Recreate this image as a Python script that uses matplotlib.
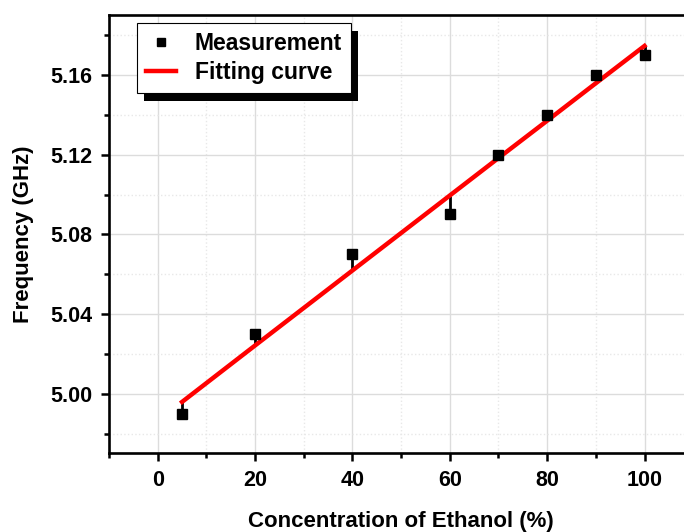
import numpy as np
import matplotlib
matplotlib.use("Agg")
import matplotlib.pyplot as plt
from matplotlib.patches import Rectangle
from matplotlib.ticker import MultipleLocator, FormatStrFormatter

# === DATOS ===
concentracion = [5, 20, 40, 60, 70, 80, 90, 100]
frecuencia = [4.99, 5.03, 5.07, 5.09, 5.12, 5.14, 5.16, 5.17]
ajuste = [4.9960, 5.0243, 5.0619, 5.0995, 5.1183, 5.1370, 5.1558, 5.1745]

plt.rcParams['font.family'] = ['Liberation Sans', 'DejaVu Sans']
plt.rcParams['font.weight'] = 'bold'

fig = plt.figure(figsize=(6.84, 5.32), dpi=100)
ax = fig.add_axes([109 / 684, 1 - 453 / 532, 584.2 / 684, 438 / 532])

# residuos (linea vertical del punto a la recta)
for x, y, f in zip(concentracion, frecuencia, ajuste):
    ax.plot([x, x], [y, f], color='black', lw=2.0, zorder=3, solid_capstyle='butt')

ax.plot(concentracion, ajuste, color='#ff0000', lw=3.2, zorder=4, label='Fitting curve')
ax.plot(concentracion, frecuencia, 's', color='black', ms=6.8, zorder=5, label='Measurement')

ax.set_xlim(-10, 110)
ax.set_ylim(4.9704, 5.19)
ax.xaxis.set_major_locator(MultipleLocator(20))
ax.xaxis.set_minor_locator(MultipleLocator(10))
ax.yaxis.set_major_locator(MultipleLocator(0.04))
ax.yaxis.set_minor_locator(MultipleLocator(0.02))
ax.yaxis.set_major_formatter(FormatStrFormatter('%.2f'))

ax.grid(True, which='major', color='#dcdcdc', lw=1.0, ls='-')
ax.grid(True, which='minor', color='#e8e8e8', lw=1.0, ls=':')
ax.set_axisbelow(True)

for s in ax.spines.values():
    s.set_linewidth(1.9)
ax.spines['right'].set_visible(False)

ax.tick_params(which='major', direction='out', length=6, width=1.8, labelsize=15.5, pad=6)
ax.tick_params(which='minor', direction='out', length=3.5, width=1.8)
for lbl in ax.get_xticklabels() + ax.get_yticklabels():
    lbl.set_fontweight('bold')

ax.set_xlabel('Concentration of Ethanol (%)', fontsize=16, fontweight='bold', labelpad=15)
ax.set_ylabel('Frequency (GHz)', fontsize=16, fontweight='bold', labelpad=12)

handles, labels = ax.get_legend_handles_labels()
leg = ax.legend([handles[1], handles[0]], [labels[1], labels[0]],
                loc='upper left', bbox_to_anchor=(0.0484, 0.982), borderaxespad=0,
                fancybox=False, framealpha=1, edgecolor='black',
                prop={'size': 16.5, 'weight': 'bold'}, markerscale=0.85,
                handlelength=1.3, handletextpad=0.8, borderpad=0.4, labelspacing=0.25)
leg.get_frame().set_linewidth(0.8)

# sombra negra desplazada como en el original
fig.canvas.draw()
bb = leg.get_window_extent()
sombra = Rectangle(((bb.x0 + 7) / 684, (bb.y0 - 8) / 532), bb.width / 684, bb.height / 532,
                   transform=fig.transFigure, facecolor='black', edgecolor='none', zorder=4.9)
ax.add_artist(sombra)
sombra.set_clip_on(False)
leg.set_zorder(6)

fig.savefig('out.png', dpi=100)
